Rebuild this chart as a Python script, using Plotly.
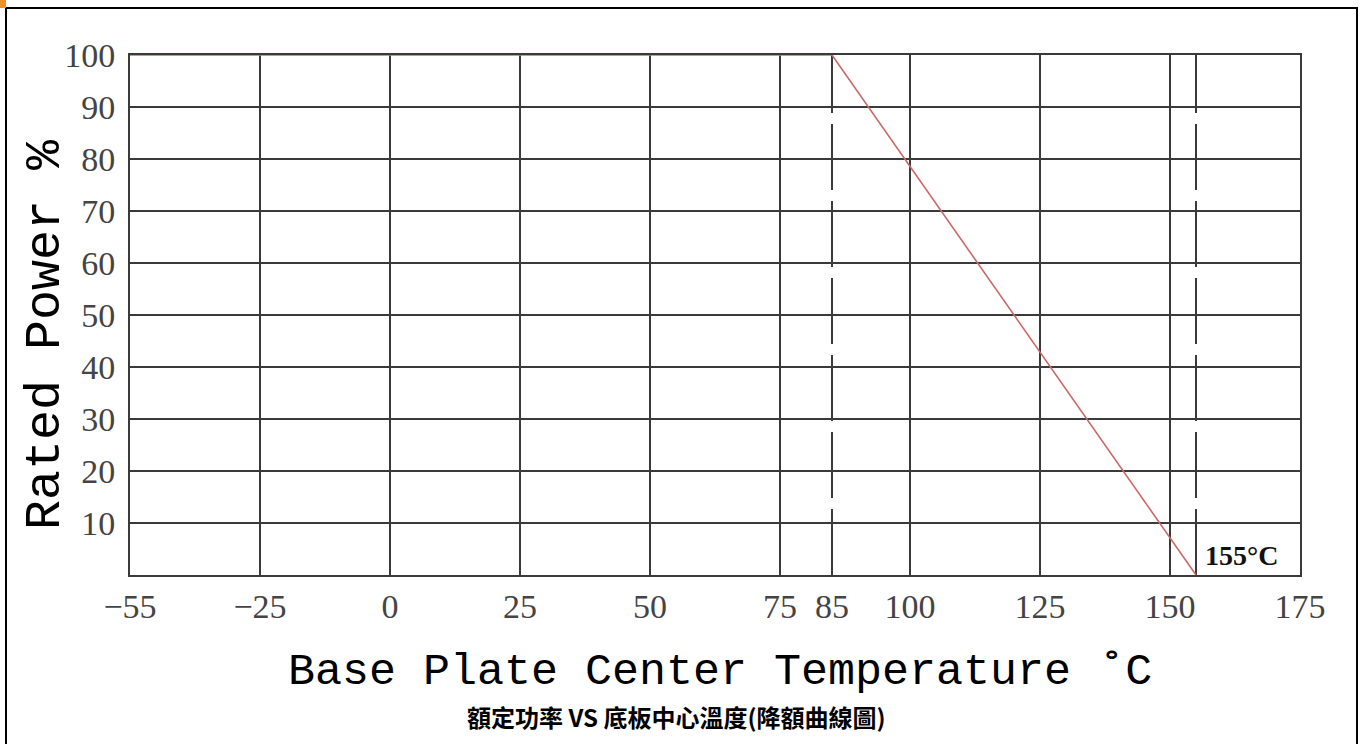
import plotly.graph_objects as go

# ---- data ----
curve_temp = [-55, 85, 155]          # °C
curve_power = [100, 100, 0]          # % rated power
x_tick_values = [-55, -25, 0, 25, 50, 75, 85, 100, 125, 150, 175]
x_tick_labels = ["\u221255", "\u221225", "0", "25", "50", "75", "85", "100", "125", "150", "175"]
y_tick_values = [10, 20, 30, 40, 50, 60, 70, 80, 90, 100]
dashed_temps = [85, 155]
annot_text = "155°C"
x_title = "Base Plate Center Temperature ˚C"
y_title = "Rated Power %"
caption = "額定功率 VS 底板中心溫度(降額曲線圖)"

# The drawing's axis starts at −55 but places it one 25° step before −25.
AXIS_START = -50
def axis_pos(t):
    return AXIS_START if t <= -55 else t

W, H = 1362, 744
L, R, T, B = 130, 62, 55, 169
PW, PH = W - L - R, H - T - B

def px_x(p):
    return (p - L) / PW
def px_y(p):
    return (H - B - p) / PH

GRID = "#3a3a3a"
fig = go.Figure()

fig.add_trace(go.Scatter(
    x=[axis_pos(t) for t in curve_temp], y=curve_power,
    mode="lines", line=dict(color="#c96a6a", width=1.6),
    hoverinfo="skip", showlegend=False, cliponaxis=False))

shapes = []
# vertical grid lines
for t in x_tick_values + [155]:
    if t in (175, -55):
        continue
    dash = "66px,11px" if t in dashed_temps else "solid"
    shapes.append(dict(type="line", xref="x", yref="y", x0=axis_pos(t), x1=axis_pos(t),
                       y0=0, y1=100, line=dict(color=GRID, width=2, dash=dash), layer="below"))
# outer frame of the picture
shapes.append(dict(type="rect", xref="paper", yref="paper",
                   x0=px_x(6), x1=px_x(1357), y0=px_y(760), y1=px_y(8),
                   line=dict(color="black", width=2), fillcolor="rgba(0,0,0,0)", layer="below"))
shapes.append(dict(type="rect", xref="paper", yref="paper",
                   x0=px_x(0), x1=px_x(6), y0=px_y(8), y1=px_y(0),
                   line=dict(width=0), fillcolor="#f0902a"))

annotations = [
    dict(x=155, y=0.3, xref="x", yref="y", text="<b>" + annot_text + "</b>", showarrow=False,
         xanchor="left", yanchor="bottom", xshift=7,
         font=dict(family="Liberation Serif", size=28, color="#111")),
    dict(x=px_x(720), y=px_y(672), xref="paper", yref="paper", text=x_title, showarrow=False,
         xanchor="center", yanchor="middle",
         font=dict(family="Liberation Mono", size=45, color="#000")),
    dict(x=px_x(45), y=px_y(335), xref="paper", yref="paper", text=y_title, showarrow=False,
         xanchor="center", yanchor="middle", textangle=-90,
         font=dict(family="Liberation Mono", size=50, color="#000")),
    dict(x=px_x(676), y=px_y(716), xref="paper", yref="paper", text="<b>" + caption + "</b>",
         showarrow=False, xanchor="center", yanchor="middle",
         font=dict(family="Noto Sans CJK TC", size=24, color="#000")),
]

fig.update_layout(
    width=W, height=H,
    margin=dict(l=L, r=R, t=T, b=B),
    paper_bgcolor="white", plot_bgcolor="white",
    shapes=shapes, annotations=annotations,
    xaxis=dict(range=[AXIS_START, 175], tickmode="array",
               tickvals=[axis_pos(t) for t in x_tick_values], ticktext=x_tick_labels,
               showgrid=False, zeroline=False, showline=True, linecolor=GRID, linewidth=2,
               mirror=True, ticks="", ticklabelstandoff=0,
               tickfont=dict(family="Liberation Serif", size=34, color="#444")),
    yaxis=dict(range=[0, 100], tickmode="array", tickvals=y_tick_values,
               showgrid=True, gridcolor=GRID, gridwidth=2, zeroline=False,
               showline=True, linecolor=GRID, linewidth=2, mirror=True, ticks="",
               ticklabelstandoff=6,
               tickfont=dict(family="Liberation Serif", size=34, color="#444")),
)

fig.write_html("out.html", config={"displayModeBar": False},
               post_script="document.body.style.margin='0';document.body.style.overflow='hidden';")
